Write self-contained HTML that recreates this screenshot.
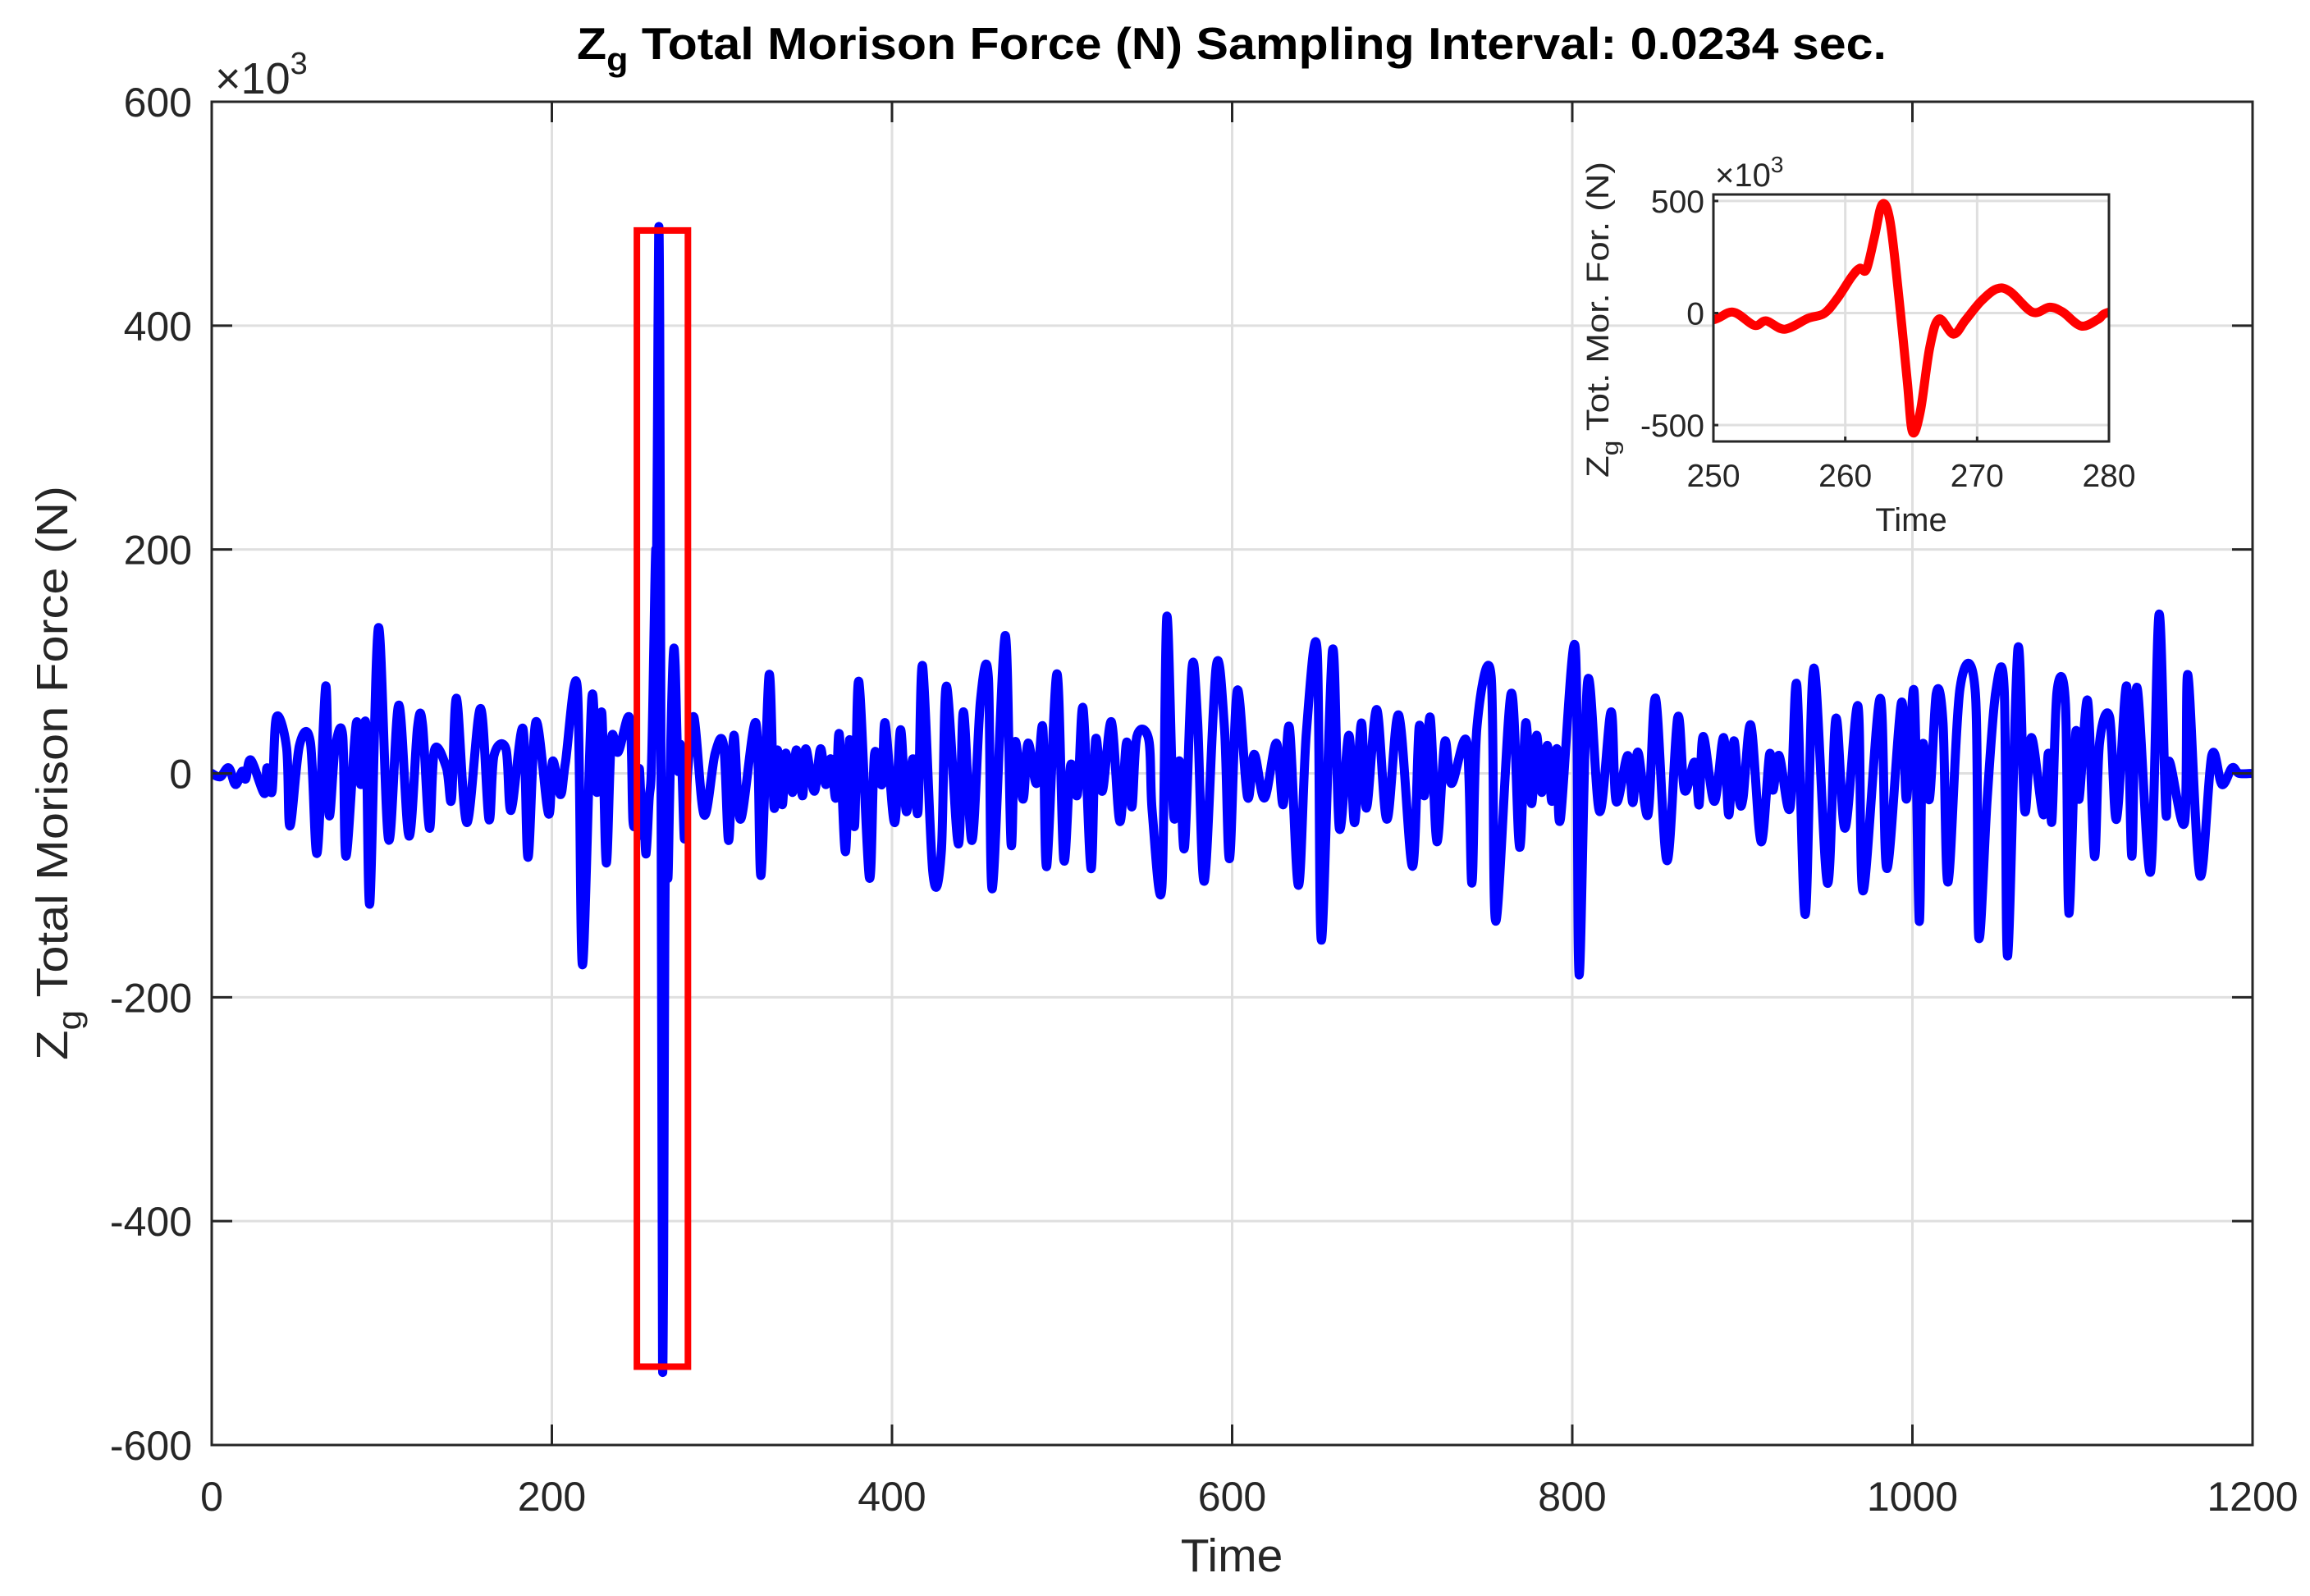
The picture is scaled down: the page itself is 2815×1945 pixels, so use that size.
<!DOCTYPE html>
<html>
<head>
<meta charset="utf-8">
<style>
html,body{margin:0;padding:0;background:#fff;}
svg{display:block;font-family:"Liberation Sans",Arial,sans-serif;}
</style>
</head>
<body>
<svg id="chart" width="2815" height="1945" viewBox="0 0 2815 1945" xmlns="http://www.w3.org/2000/svg">
  <rect x="0" y="0" width="2815" height="1945" fill="#fff"/>
  <defs>
    <clipPath id="mainClip"><rect x="258" y="124" width="2487" height="1637"/></clipPath>
    <clipPath id="insetClip"><rect x="2088" y="237" width="482" height="301"/></clipPath>
  </defs>
  <g id="mainGrid"></g>
  <g id="mainSeries" clip-path="url(#mainClip)"></g>
  <g id="mainAxes"></g>
  <g id="zoomBox"></g>
  <text x="703" y="72" font-size="55" font-weight="bold" fill="#000" textLength="1596" lengthAdjust="spacingAndGlyphs">Z<tspan font-size="40" dy="14">g</tspan><tspan dy="-14"> Total Morison Force (N) Sampling Interval: 0.0234 sec.</tspan></text>
  <text x="262" y="114" font-size="54" fill="#262626">×10<tspan font-size="38" dy="-24">3</tspan></text>
  <text x="1501" y="1915" font-size="57" fill="#262626" text-anchor="middle">Time</text>
  <text transform="translate(82,1292) rotate(-90)" font-size="54" fill="#262626" textLength="700" lengthAdjust="spacingAndGlyphs">Z<tspan font-size="40" dy="16">g</tspan><tspan dy="-16"> Total Morison Force (N)</tspan></text>

  <g id="inset">
    <rect x="2088" y="237" width="482" height="301" fill="#fff"/>
    <g id="insetGrid"></g>
    <g id="insetSeries" clip-path="url(#insetClip)"></g>
    <g id="insetAxes"></g>
    <text x="2090" y="227" font-size="40" fill="#262626">×10<tspan font-size="28" dy="-17">3</tspan></text>
    <text x="2329" y="647" font-size="40" fill="#262626" text-anchor="middle">Time</text>
    <text transform="translate(1960,582) rotate(-90)" font-size="38" fill="#262626" textLength="385" lengthAdjust="spacingAndGlyphs">Z<tspan font-size="29" dy="12">g</tspan><tspan dy="-12"> Tot. Mor. For. (N)</tspan></text>
  </g>
</svg>
<script>
const time = [0,5,10,14,18,20,23,31,32.5,35.5,38,44,46,51.6,58,62,67,69,72.5,77,79,85,87.6,90.6,93,98,104,110,116,121,124,128,131,138,141,144,150,158,163,166,173,176,183,186,190.6,198,200.5,205,208,215,218,223.5,226.5,229.4,232,235,239,245.8,247.7,
250,251.5,253.1,254,255.4,257.2,258.4,259.4,260.5,261.1,261.6,262.2,262.8,263.4,264.1,264.7,265.1,265.7,266.4,267.1,268.2,269.1,270.3,271.5,272.5,274.2,275.5,276.5,277.9,279.2,280,
283.6,289.5,296,301,304,307,311,320,323,327.7,330.6,332.6,335.5,337.5,341.5,343.8,347.4,349.3,354.3,358,361,364,367,369,372.6,375,378,380.5,386.7,389.7,394,396,401.5,405,408.4,412.3,415.3,418,424,429,432,439,442,447,452,456.7,459,466.5,470,472.4,477,480,485,488.7,491,497,501,505,509,512.4,517,519.7,523.6,529,534,538,541,544,551,553,558.7,561.6,565.6,569,572,576.4,579.7,583.7,590.6,595.5,598.5,603,609,613,619,626,630,633.7,639,643.6,650,652.5,659,663,668.6,672,676,679,685,691,698,706,710,713,716.5,720.4,725,729,738,741,744,752.3,755,764,769,772.6,776,779,782,785.4,788,791,793,801.7,804,809,816,822.8,825.8,832.6,835.6,838.6,844.5,849,855.7,862,866,872,874.6,877,883.5,889,892,895,898,900.4,905,911,916,918,921.6,928,932,937,942,950,955,960.4,968,971,981,985,993.5,996.5,1001,1004,1006,1010,1014,1018,1021,1028,1037,1039,1044,1049,1054,1056,1062,1066,1070,1077,1080,1082,1085,1090,1092,1096,1098,1103,1107,1110,1116,1120,1126,1129,1132,1140,1145,1149,1151,1160,1162,1169,1176,1182,1188,1192,1200];
const force = [0,-3,5,-10,2,-5,12,-18,5,-16,50,23,-47,25,28,-71,78,-37,22,34,-74,45,-10,44,-116,130,-59,61,-56,41,43,-49,21,5,-23,67,-44,58,-41,16,22,-33,40,-75,46,-36,11,-19,10,76,-171,67,-17,54,-80,30,19,49,-43,
-30,4,-55,-35,-72,-23,-2,65,163,200,194,335,485,408,53,-303,-530,-437,-156,-27,-94,-33,53,108,96,4,26,4,-58,-27,4,
50,-37,18,25,-60,34,-41,45,-91,88,-30,21,-28,18,-17,21,-20,22,-16,22,-10,13,-22,35,-70,30,-47,82,-93,17,-10,45,-44,39,-34,13,-34,96,-88,-70,78,-63,55,-60,65,85,-103,123,-63,28,-23,27,-9,41,-83,89,-77,7,-19,58,-85,30,-16,46,-43,28,-30,33,30,-34,-102,140,-37,11,-66,94,47,-96,95,40,-76,74,-21,17,-22,27,-28,41,-100,36,110,-149,110,-49,34,-44,45,-31,57,-41,52,-83,42,-20,50,-61,28,-9,28,-98,42,87,-132,71,-66,45,-27,34,-17,25,-25,22,-41,113,-180,82,-34,55,-25,16,-26,19,-37,67,-78,50,-15,10,-28,33,-25,32,-37,29,-22,-22,43,-61,17,-15,16,-31,79,-126,94,-98,49,-49,60,-105,67,-85,63,-23,73,-132,24,-23,71,45,-97,76,72,-146,-22,73,74,-163,111,-33,32,-37,18,-43,73,62,-125,36,-23,65,-74,27,50,-41,78,-74,77,-88,142,-34,11,-44,88,-91,16,-10,5,0,0];
const xTicks = [0,200,400,600,800,1000,1200];
const yTicks = [-600,-400,-200,0,200,400,600];
const insetXTicks = [250,260,270,280];
const insetYTicks = [-500,0,500];
const insetYLabels = ["-500","0","500"];

const NS = "http://www.w3.org/2000/svg";
const L=258,R=2745,T=124,B=1761, XMIN=0,XMAX=1200,YMIN=-600,YMAX=600;
const IL=2088,IR=2570,IT=237,IB=538, IXMIN=250,IXMAX=280,IYMIN=-573,IYMAX=529;
function xMain(t){return L+(t-XMIN)*(R-L)/(XMAX-XMIN);}
function yMain(v){return T+(YMAX-v)*(B-T)/(YMAX-YMIN);}
function xIn(t){return IL+(t-IXMIN)*(IR-IL)/(IXMAX-IXMIN);}
function yIn(v){return IT+(IYMAX-v)*(IB-IT)/(IYMAX-IYMIN);}
function mk(tag,attrs,parent){const e=document.createElementNS(NS,tag);for(const k in attrs)e.setAttribute(k,attrs[k]);parent.appendChild(e);return e;}
function smoothPath(pts){
  let d='M'+pts[0][0].toFixed(1)+','+pts[0][1].toFixed(1);
  for(let i=0;i<pts.length-1;i++){
    const p0=pts[i>0?i-1:i],p1=pts[i],p2=pts[i+1],p3=pts[i+2<pts.length?i+2:i+1];
    const c1x=p1[0]+(p2[0]-p0[0])/6, c1y=p1[1]+(p2[1]-p0[1])/6;
    const c2x=p2[0]-(p3[0]-p1[0])/6, c2y=p2[1]-(p3[1]-p1[1])/6;
    d+='C'+c1x.toFixed(1)+','+c1y.toFixed(1)+' '+c2x.toFixed(1)+','+c2y.toFixed(1)+' '+p2[0].toFixed(1)+','+p2[1].toFixed(1);
  }
  return d;
}

const mainGrid=document.getElementById('mainGrid');
const mainAxes=document.getElementById('mainAxes');
xTicks.forEach(t=>{
  const g=mk('line',{x1:xMain(t),x2:xMain(t),y1:T,y2:B,stroke:'#dfdfdf','stroke-width':3},mainGrid);
  
  
  const tk1=mk('line',{x1:xMain(t),x2:xMain(t),y1:B,y2:B-25,stroke:'#262626','stroke-width':3},mainAxes);
  
  
  const tk2=mk('line',{x1:xMain(t),x2:xMain(t),y1:T,y2:T+25,stroke:'#262626','stroke-width':3},mainAxes);
  
  
  const lb=mk('text',{x:xMain(t),y:B+80,'font-size':50,fill:'#262626','text-anchor':'middle'},mainAxes);
  
  
  lb.textContent=String(t);
});
yTicks.forEach(v=>{
  const g=mk('line',{x1:L,x2:R,y1:yMain(v),y2:yMain(v),stroke:'#dfdfdf','stroke-width':3},mainGrid);
  
  
  const tk1=mk('line',{x1:L,x2:L+25,y1:yMain(v),y2:yMain(v),stroke:'#262626','stroke-width':3},mainAxes);
  
  
  const tk2=mk('line',{x1:R,x2:R-25,y1:yMain(v),y2:yMain(v),stroke:'#262626','stroke-width':3},mainAxes);
  
  
  const lb=mk('text',{x:234,y:yMain(v)+18,'font-size':50,fill:'#262626','text-anchor':'end'},mainAxes);
  
  
  lb.textContent=String(v);
});
const frame=mk('rect',{x:L,y:T,width:R-L,height:B-T,fill:'none',stroke:'#262626','stroke-width':3},mainAxes);



const mainPts=time.map((t,i)=>[xMain(t),yMain(force[i])]);
const mainLine=mk('path',{d:smoothPath(mainPts),fill:'none',stroke:'#0000ff','stroke-width':11,'stroke-linejoin':'round','stroke-linecap':'round'},document.getElementById('mainSeries'));



let wmax=-Infinity,wmin=Infinity;
time.forEach((t,i)=>{if(t>=IXMIN&&t<=IXMAX){wmax=Math.max(wmax,force[i]);wmin=Math.min(wmin,force[i]);}});
const zb=mk('rect',{x:xMain(IXMIN),y:yMain(wmax),width:xMain(IXMAX)-xMain(IXMIN),height:yMain(wmin)-yMain(wmax),fill:'none',stroke:'#ff0000','stroke-width':8},document.getElementById('zoomBox'));



const insetGrid=document.getElementById('insetGrid');
const insetAxes=document.getElementById('insetAxes');
insetXTicks.forEach(t=>{
  const g=mk('line',{x1:xIn(t),x2:xIn(t),y1:IT,y2:IB,stroke:'#dfdfdf','stroke-width':3},insetGrid);
  
  
  const tk=mk('line',{x1:xIn(t),x2:xIn(t),y1:IB,y2:IB-6,stroke:'#262626','stroke-width':3},insetAxes);
  
  
  const lb=mk('text',{x:xIn(t),y:593,'font-size':39,fill:'#262626','text-anchor':'middle'},insetAxes);
  
  
  lb.textContent=String(t);
});
insetYTicks.forEach((v,i)=>{
  const g=mk('line',{x1:IL,x2:IR,y1:yIn(v),y2:yIn(v),stroke:'#dfdfdf','stroke-width':3},insetGrid);
  
  
  const tk=mk('line',{x1:IL,x2:IL+6,y1:yIn(v),y2:yIn(v),stroke:'#262626','stroke-width':3},insetAxes);
  
  
  const lb=mk('text',{x:2077,y:yIn(v)+14,'font-size':39,fill:'#262626','text-anchor':'end'},insetAxes);
  
  
  lb.textContent=insetYLabels[i];
});
const insetPts=time.map((t,i)=>[xIn(t),yIn(force[i])]);
const insetLine=mk('path',{d:smoothPath(insetPts),fill:'none',stroke:'#ff0000','stroke-width':11,'stroke-linejoin':'round','stroke-linecap':'round'},document.getElementById('insetSeries'));


const iframe=mk('rect',{x:IL,y:IT,width:IR-IL,height:IB-IT,fill:'none',stroke:'#262626','stroke-width':3},insetAxes);


</script>
</body>
</html>
